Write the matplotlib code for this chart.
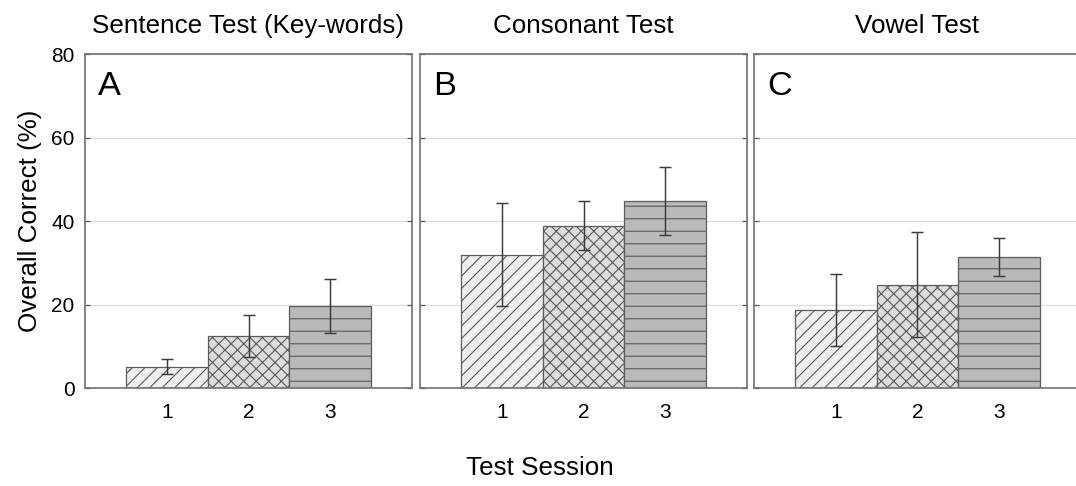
import numpy as np
import matplotlib.pyplot as plt

plt.rcParams['font.family'] = ['Liberation Sans', 'DejaVu Sans']
plt.rcParams['hatch.linewidth'] = 0.55

# mean overall correct (%) per test session, with error bar half-widths
sessions = ['1', '2', '3']
titles = ['Sentence Test (Key-words)', 'Consonant Test', 'Vowel Test']
letters = ['A', 'B', 'C']
sentence_mean = [5.1, 12.5, 19.6]
sentence_err = [1.8, 5.0, 6.4]
consonant_mean = [31.9, 38.9, 44.8]
consonant_err = [12.3, 5.9, 8.1]
vowel_mean = [18.7, 24.7, 31.4]
vowel_err = [8.7, 12.6, 4.6]

means = [sentence_mean, consonant_mean, vowel_mean]
errs = [sentence_err, consonant_err, vowel_err]

bar_colors = ['#efefef', '#dddddd', '#b9b9b9']
hatches = ['////', 'xxxx', '--']

dpi = 150
fig = plt.figure(figsize=(1076 / dpi, 486 / dpi), dpi=dpi)

lefts = [85 / 1076, 420 / 1076, 754 / 1076]
width = 327 / 1076
bottom = 1 - 388 / 486
height = (388 - 54) / 486

x = np.arange(1, len(sessions) + 1)
for i in range(3):
    ax = fig.add_axes([lefts[i], bottom, width, height])
    ax.set_axisbelow(True)
    ax.yaxis.grid(True, color='#dedede', linewidth=0.6)
    for j in range(len(sessions)):
        ax.bar(x[j], means[i][j], 1.0, color=bar_colors[j], edgecolor='#5c5c5c',
               hatch=hatches[j], linewidth=0.6, zorder=2)
    ax.errorbar(x, means[i], yerr=errs[i], fmt='none', ecolor='#3a3a3a',
                elinewidth=0.7, capsize=3, capthick=0.7, zorder=3)

    ax.set_xlim(0, 4)
    ax.set_ylim(0, 80)
    ax.set_xticks(x)
    ax.set_xticklabels(sessions)
    ax.set_yticks([0, 20, 40, 60, 80])
    ax.tick_params(axis='x', length=0, pad=7, labelsize=10)
    ax.tick_params(axis='y', direction='in', left=True, right=True, length=2.5,
                   width=0.6, color='#555555', pad=5, labelsize=10)
    if i > 0:
        ax.tick_params(axis='y', labelleft=False)
    for s in ax.spines.values():
        s.set_color('#707070')
        s.set_linewidth(0.8)

    ax.set_title(titles[i], fontsize=12.5, pad=10)
    ax.text(0.04, 0.95, letters[i], transform=ax.transAxes, fontsize=16.5,
            ha='left', va='top')

fig.text(30 / 1076, 1 - 221 / 486, 'Overall Correct (%)', rotation=90,
         ha='center', va='center', fontsize=12.5)
fig.text(540 / 1076, 1 - 468 / 486, 'Test Session', ha='center', va='center',
         fontsize=12.5)

fig.savefig('out.png', dpi=dpi)
